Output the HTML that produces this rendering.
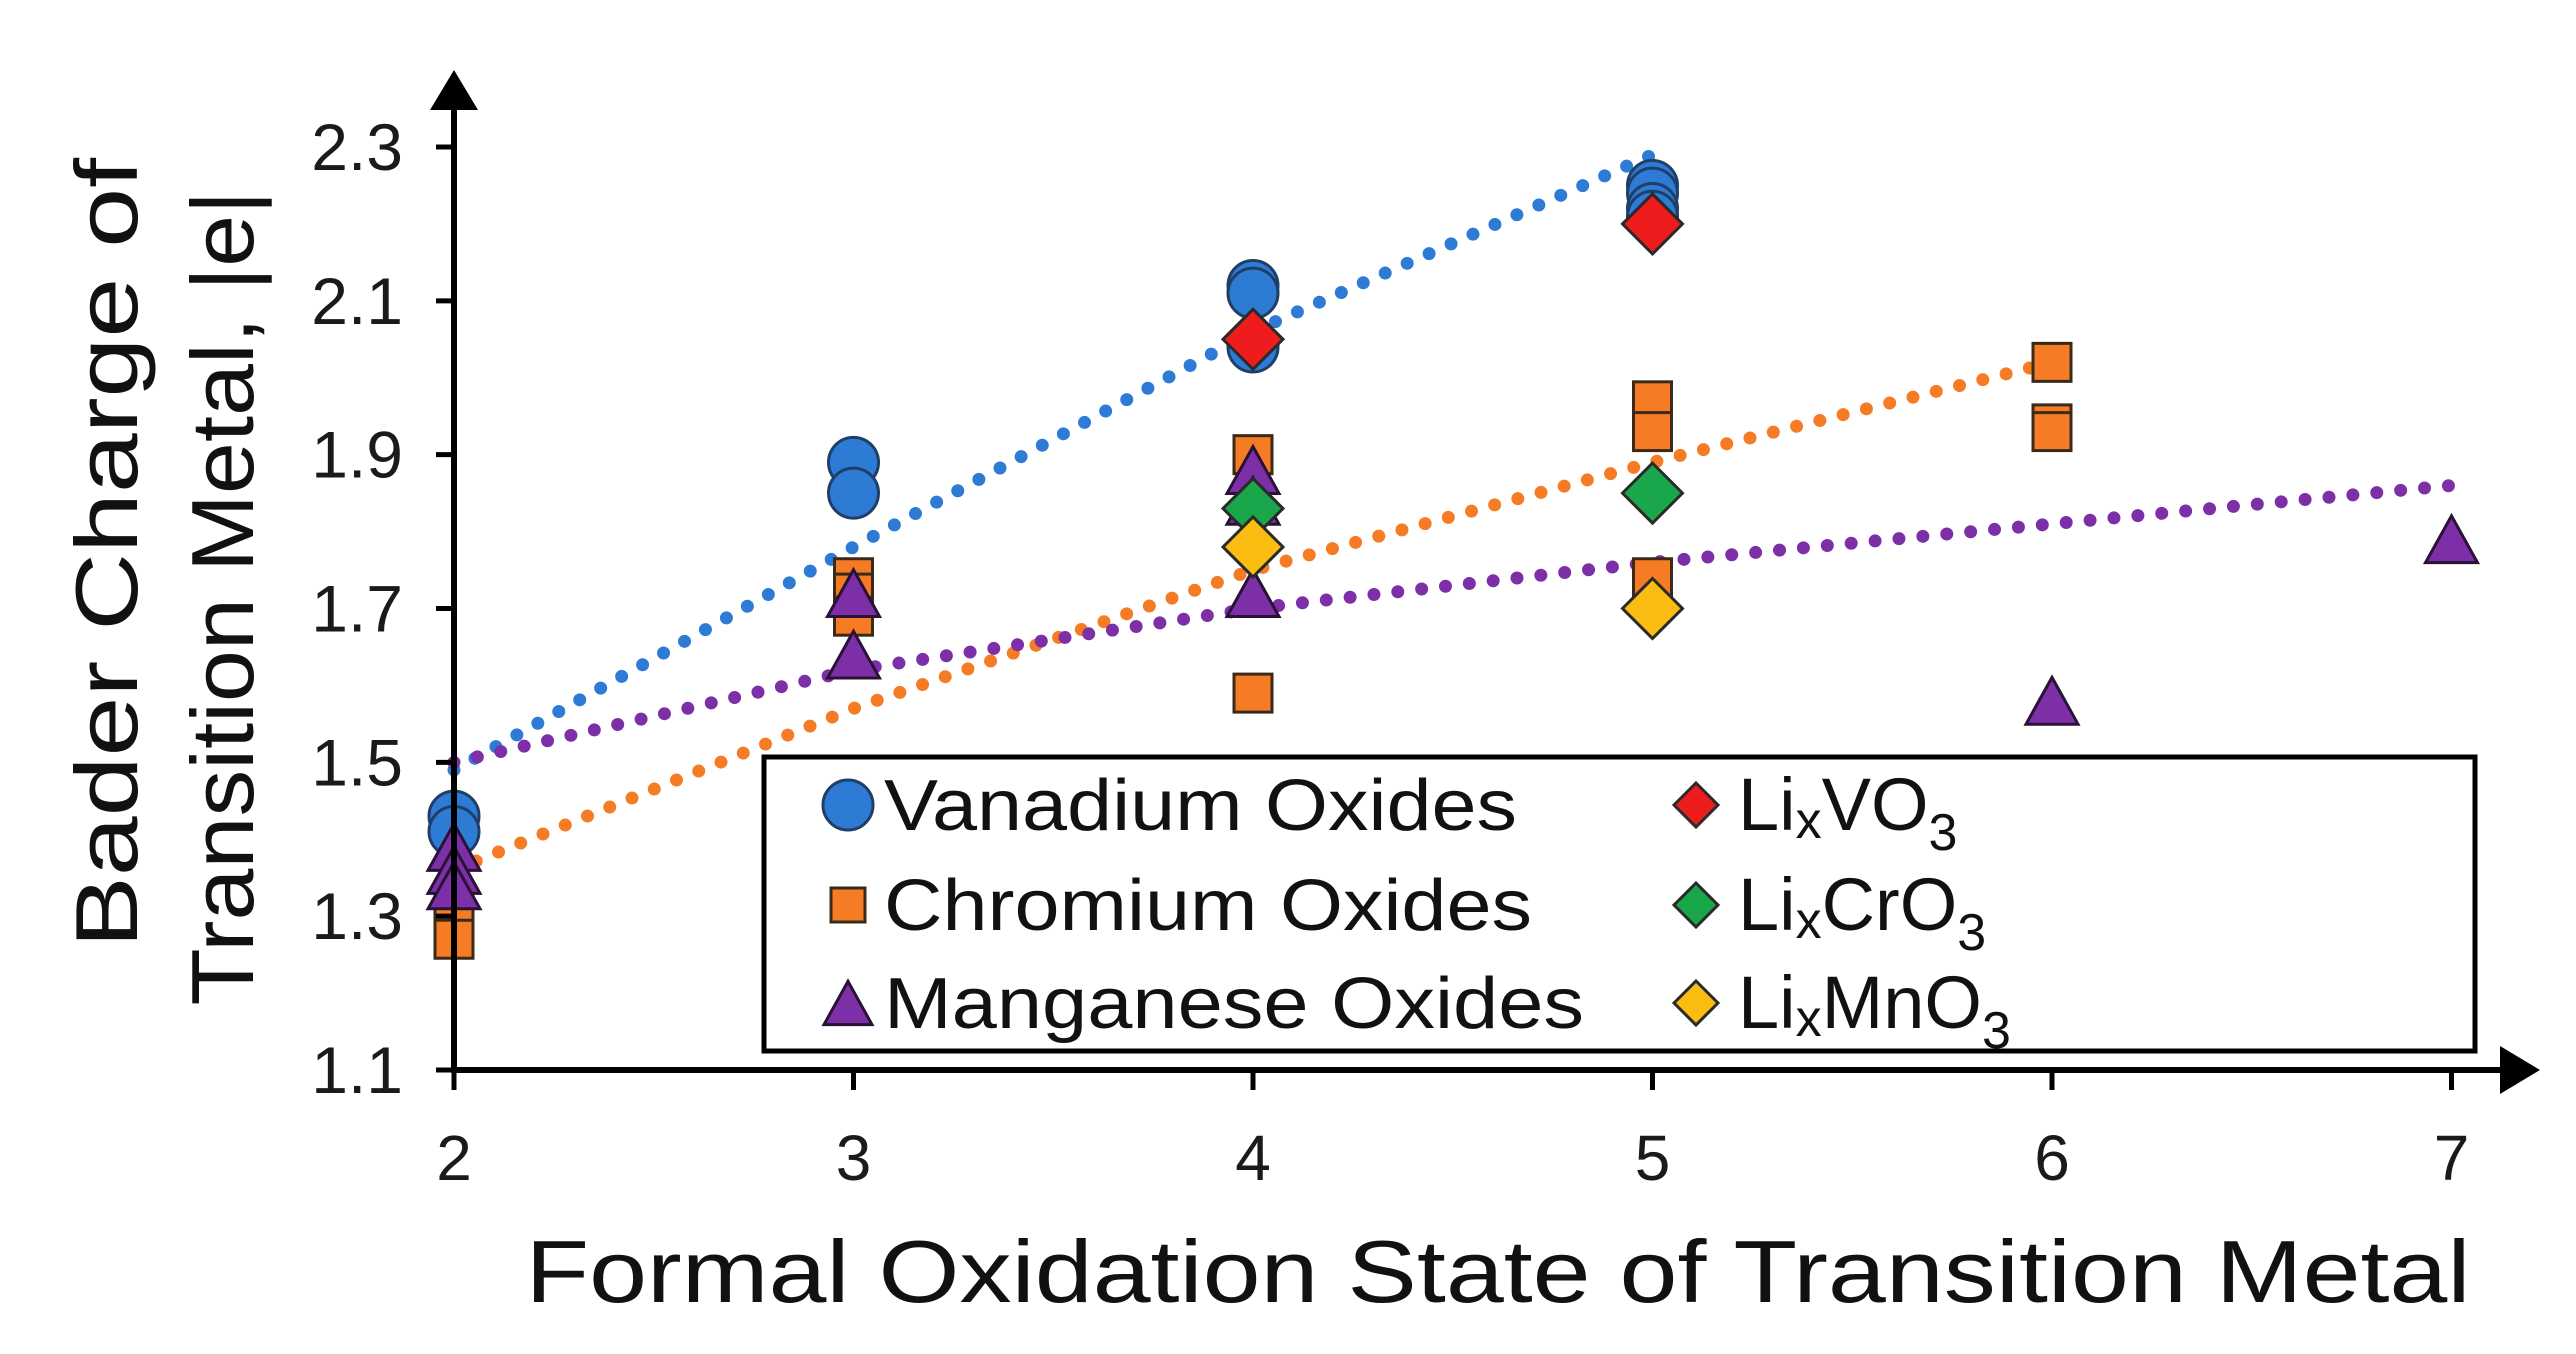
<!DOCTYPE html>
<html><head><meta charset="utf-8"><style>
html,body{margin:0;padding:0;background:#fff;}
svg{display:block;font-family:"Liberation Sans",sans-serif;}
</style></head><body>
<svg id="chart" width="2576" height="1354" viewBox="0 0 2576 1354" xmlns="http://www.w3.org/2000/svg">
<g id="trends"></g>
<g id="marks"></g>
<g id="axes"></g>
<g id="legend"></g>
</svg>
<script>
const xTicks=[2,3,4,5,6,7];
const yTicks=[1.1,1.3,1.5,1.7,1.9,2.1,2.3];
const yTickLabels=["1.1","1.3","1.5","1.7","1.9","2.1","2.3"];
const vanX=[2,2,3,3,4,4,4,5,5,5,5];
const vanY=[1.43,1.41,1.89,1.85,2.12,2.11,2.04,2.25,2.24,2.22,2.21];
const crX=[2,2,2,3,3,3,4,4,5,5,5,6,6,6];
const crY=[1.32,1.29,1.27,1.74,1.72,1.69,1.90,1.59,1.97,1.93,1.74,2.02,1.94,1.93];
const mnX=[2,2,2,3,3,4,4,4,6,7];
const mnY=[1.39,1.36,1.34,1.72,1.64,1.88,1.84,1.72,1.58,1.79];
const livX=[4,5];const livY=[2.05,2.20];
const licrX=[4,5];const licrY=[1.83,1.85];
const limnX=[4,5];const limnY=[1.78,1.70];
const trendVX=[2,3,4,5];const trendVY=[1.49,1.78,2.06,2.29];
const trendCrX=[2,3,4,5,6];const trendCrY=[1.36,1.57,1.75,1.89,2.02];
const trendMnX=[2,3,4,5,6,7];const trendMnY=[1.50,1.62,1.70,1.76,1.81,1.86];

const NS="http://www.w3.org/2000/svg";
function X(v){return 454+(v-2)*399.5;}
function Y(v){return 1070-(v-1.1)/1.2*923;}
function mk(tag,attrs,parent){const e=document.createElementNS(NS,tag);for(const k in attrs)e.setAttribute(k,attrs[k]);parent.appendChild(e);return e;}
const trends=document.getElementById('trends'),marks=document.getElementById('marks'),axes=document.getElementById('axes'),legend=document.getElementById('legend');

function trend(xs,ys,color,name){
  let d="";xs.forEach((x,i)=>{d+=(i?"L":"M")+X(x)+","+Y(ys[i]);});
  const p=mk('path',{d:d,fill:'none',stroke:color,'stroke-width':13,'stroke-linecap':'round','stroke-dasharray':'0 24'},trends);
  
  
}
trend(trendVX,trendVY,'#2e7bd6','trendline-vanadium');
trend(trendCrX,trendCrY,'#f57c24','trendline-chromium');
trend(trendMnX,trendMnY,'#7d2fa8','trendline-manganese');

function circle(cx,cy,r,parent){return mk('circle',{cx:cx,cy:cy,r:r,fill:'#2e7bd6',stroke:'#1f3f66','stroke-width':3},parent);}
function square(cx,cy,s,parent){return mk('rect',{x:cx-s/2,y:cy-s/2,width:s,height:s,fill:'#f57c24',stroke:'#3a2a1a','stroke-width':3},parent);}
function tri(cx,cy,s,parent){const h=s*0.9;return mk('polygon',{points:(cx)+","+(cy-h/2)+" "+(cx+s/2)+","+(cy+h/2)+" "+(cx-s/2)+","+(cy+h/2),fill:'#7d2fa8',stroke:'#2a1236','stroke-width':3},parent);}
function dia(cx,cy,r,fill,parent){return mk('polygon',{points:cx+","+(cy-r)+" "+(cx+r)+","+cy+" "+cx+","+(cy+r)+" "+(cx-r)+","+cy,fill:fill,stroke:'#2a2a2a','stroke-width':3},parent);}

crX.forEach((x,i)=>{const e=square(X(x),Y(crY[i]),38,marks);

});
vanX.forEach((x,i)=>{const e=circle(X(x),Y(vanY[i]),25,marks);

});
mnX.forEach((x,i)=>{const e=tri(X(x),Y(mnY[i]),52,marks);

});
livX.forEach((x,i)=>{const e=dia(X(x),Y(livY[i]),30,'#ee1c1c',marks);

});
licrX.forEach((x,i)=>{const e=dia(X(x),Y(licrY[i]),30,'#1aa64a',marks);

});
limnX.forEach((x,i)=>{const e=dia(X(x),Y(limnY[i]),30,'#fbbd12',marks);

});

// axes
let a=mk('line',{x1:454,y1:1070,x2:2510,y2:1070,stroke:'#000','stroke-width':6},axes);


a=mk('polygon',{points:"2540,1070 2500,1046 2500,1094",fill:'#000'},axes);


a=mk('line',{x1:454,y1:1073,x2:454,y2:100,stroke:'#000','stroke-width':6},axes);


a=mk('polygon',{points:"454,70 430,110 478,110",fill:'#000'},axes);


xTicks.forEach(v=>{
  const t=mk('line',{x1:X(v),y1:1070,x2:X(v),y2:1090,stroke:'#000','stroke-width':5},axes);
  
  
  const l=mk('text',{x:X(v),y:1180,'font-size':64,'text-anchor':'middle',fill:'#1a1a1a'},axes);
  l.textContent=String(v);
  
  
});
yTicks.forEach((v,i)=>{
  const t=mk('line',{x1:436,y1:Y(v),x2:454,y2:Y(v),stroke:'#000','stroke-width':5},axes);
  
  
  const l=mk('text',{x:403,y:Y(v)+23,'font-size':66,'text-anchor':'end',fill:'#1a1a1a'},axes);
  l.textContent=yTickLabels[i];
  
  
});
let tt=mk('text',{x:1498,y:1302,'font-size':88,'text-anchor':'middle',fill:'#111',textLength:1945,lengthAdjust:'spacingAndGlyphs'},axes);
tt.textContent='Formal Oxidation State of Transition Metal';


tt=mk('text',{x:0,y:0,'font-size':88,'text-anchor':'middle',fill:'#111',transform:'translate(137,553) rotate(-90)',textLength:790,lengthAdjust:'spacingAndGlyphs'},axes);
tt.textContent='Bader Charge of';


tt=mk('text',{x:0,y:0,'font-size':88,'text-anchor':'middle',fill:'#111',transform:'translate(253,598) rotate(-90)',textLength:815,lengthAdjust:'spacingAndGlyphs'},axes);
tt.textContent='Transition Metal, |e|';



// legend
let b=mk('rect',{x:764,y:757,width:1711,height:294,fill:'#fff',stroke:'#000','stroke-width':5},legend);


const rows=[805,905,1003];
const leftNames=['Vanadium Oxides','Chromium Oxides','Manganese Oxides'];
const leftLen=[633,648,700];
let m=circle(848,rows[0],25,legend);
m=square(848,rows[1],34,legend);
m=tri(848,rows[2],48,legend);
leftNames.forEach((n,i)=>{
  const t=mk('text',{x:884,y:rows[i]+25,'font-size':72,fill:'#111',textLength:leftLen[i],lengthAdjust:'spacingAndGlyphs'},legend);
  t.textContent=n;
  
  
});
const rColors=['#ee1c1c','#1aa64a','#fbbd12'];
const rMid=['V','Cr','Mn'];
rColors.forEach((c,i)=>{
  const d=dia(1696,rows[i],22,c,legend);
  
  
  const t=mk('text',{x:1738,y:rows[i]+25,'font-size':74,fill:'#111'},legend);
  t.innerHTML='Li<tspan font-size="52" dy="8">x</tspan><tspan dy="-8">'+rMid[i]+'O</tspan><tspan font-size="52" dy="20">3</tspan>';
  
  
});
</script>
</body></html>
